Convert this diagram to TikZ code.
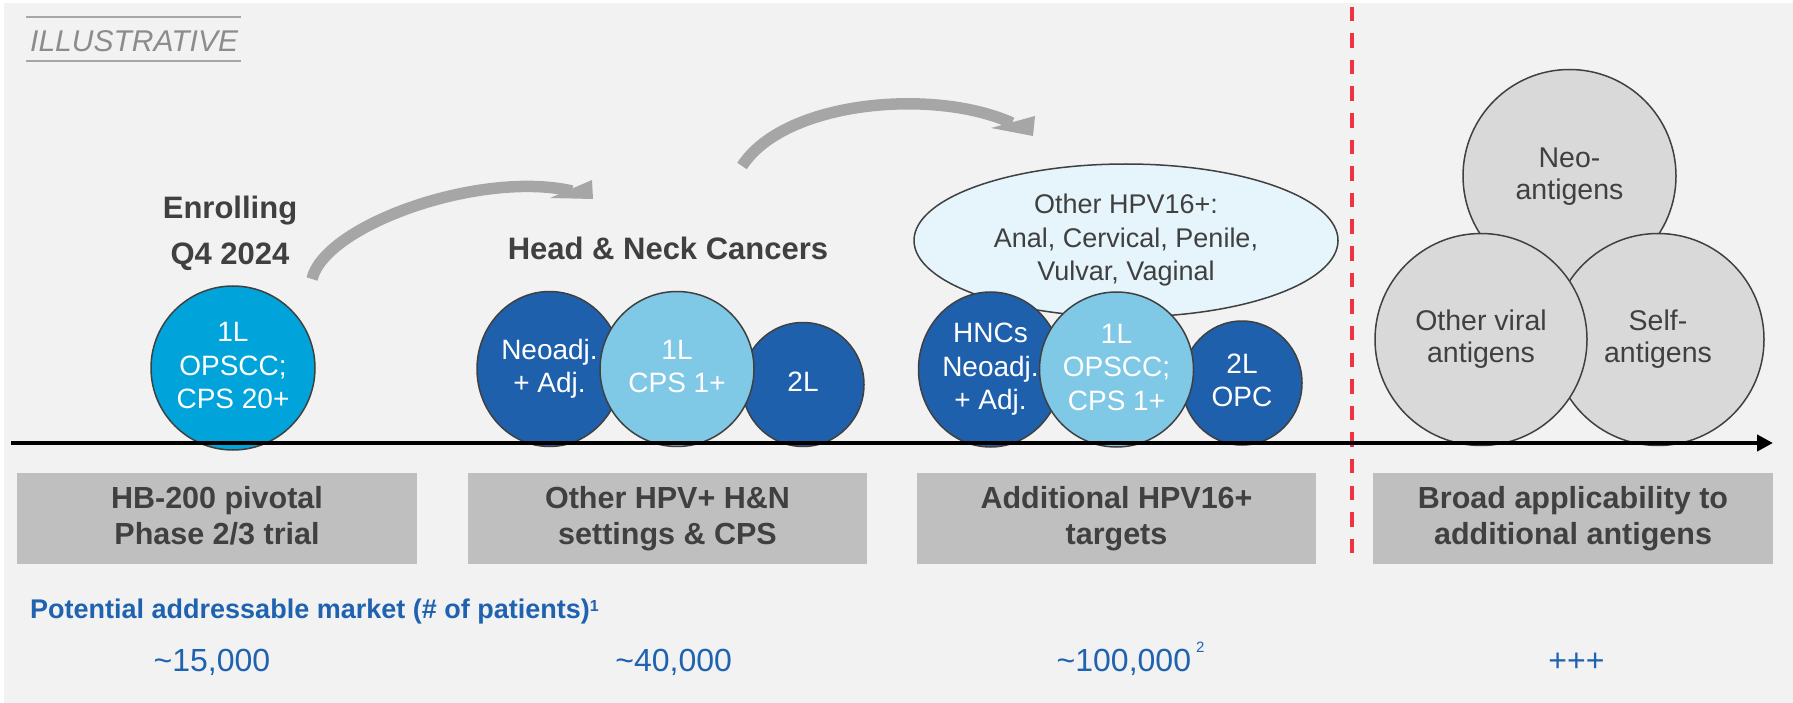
\documentclass[tikz,border=0pt]{standalone}
\usepackage{fontspec}
\setmainfont{Liberation Sans}
\usetikzlibrary{shapes.geometric,arrows.meta}

\definecolor{bg}{HTML}{F2F2F2}
\definecolor{ink}{HTML}{404040}
\definecolor{cyanb}{HTML}{00A3DA}
\definecolor{darkb}{HTML}{1F60AC}
\definecolor{lightb}{HTML}{7FC8E6}
\definecolor{paleb}{HTML}{E6F4FB}
\definecolor{boxg}{HTML}{BFBFBF}
\definecolor{discg}{HTML}{D9D9D9}
\definecolor{arrg}{HTML}{A6A6A6}
\definecolor{mktblue}{HTML}{1F62B0}
\definecolor{divred}{HTML}{EE3440}
\definecolor{tagg}{HTML}{8C8C8C}
\definecolor{tagline}{HTML}{A6A6A6}

% line strut: keeps every text line the same height, so blocks centre alike
\newcommand\lnstrut{\rule[-0.2em]{0pt}{0.9em}}

\tikzset{
  txt/.style={inner sep=0pt, align=center},
  disc/.style={ellipse, draw=ink, line width=1.5pt, inner sep=0pt, align=center,
    text=white, font=\fontsize{28}{33.5}\selectfont},
  gdisc/.style={ellipse, draw=ink, line width=1.5pt, inner sep=0pt, align=center,
    fill=discg, text=ink, font=\fontsize{28.5}{32}\selectfont},
  gbox/.style={rectangle, fill=boxg, inner sep=0pt, align=center, text=ink,
    minimum height=91pt, font=\fontsize{30.5}{36}\selectfont\bfseries},
  heading/.style={txt, text=ink, font=\fontsize{31}{46}\selectfont\bfseries},
  num/.style={inner sep=0pt, text=mktblue, font=\fontsize{32}{36}\selectfont},
  band/.style={draw=arrg, line width=11.5pt},
  bandhead/.style={fill=arrg},
}

\begin{document}
\begin{tikzpicture}[x=1pt, y=-1pt]
\useasboundingbox (0,0) rectangle (1793,703);
\fill[white] (0,0) rectangle (1793,703);
\fill[bg] (4,3) rectangle (1793,703);

% tag in the top left corner
\draw[tagline, line width=1.5pt] (26,17) -- (241,17);
\draw[tagline, line width=1.5pt] (26,61) -- (241,61);
\node[inner sep=0pt, anchor=base west, text=tagg,
      font=\fontsize{30}{36}\selectfont\itshape] (tag) at (30,52) {ILLUSTRATIVE};

% curved step arrows
\coordinate (a1t) at (312,279);
\coordinate (a1e) at (572,191);
\draw[band] (a1t) .. controls (325,225) and (480,170) .. (a1e);
\fill[bandhead] (592,180) -- (593,199) -- (550,198) -- cycle;

\coordinate (a2t) at (742,166);
\coordinate (a2e) at (1012,123);
\draw[band] (a2t) .. controls (785,100) and (935,88) .. (a2e);
\fill[bandhead] (1035,116) -- (1033,136) -- (991,128) -- cycle;

% headings
\node[heading] (enr) at (230,233.2) {\lnstrut Enrolling\\\lnstrut Q4 2024};
\node[heading] (hnc) at (668,251.1) {\lnstrut Head \& Neck Cancers};

% stage 1
\node[disc, fill=cyanb, minimum width=164pt, minimum height=164pt] (c1) at (233,368)
  {\lnstrut 1L\\\lnstrut OPSCC;\\\lnstrut CPS 20+};

% stage 2
\node[disc, fill=darkb, minimum width=145pt, minimum height=155pt] (g2a) at (549.5,369)
  {\lnstrut Neoadj.\\\lnstrut + Adj.};
\node[disc, fill=darkb, minimum width=122pt, minimum height=124pt] (g2c) at (803,384.5)
  {\lnstrut 2L};
\node[disc, fill=lightb, minimum width=154pt, minimum height=155pt] (g2b) at (677,369)
  {\lnstrut 1L\\\lnstrut CPS 1+};

% stage 3
\node[ellipse, draw=ink, line width=1.5pt, fill=paleb, inner sep=0pt, align=center,
      text=ink, font=\fontsize{27}{33.5}\selectfont,
      minimum width=424pt, minimum height=153pt] (g3e) at (1126,240.5)
  {\lnstrut Other HPV16+:\\\lnstrut Anal, Cervical, Penile,\\\lnstrut Vulvar, Vaginal};
\node[disc, fill=darkb, minimum width=144pt, minimum height=155pt] (g3a) at (990.5,369.5)
  {\lnstrut HNCs\\\lnstrut Neoadj.\\\lnstrut + Adj.};
\node[disc, fill=darkb, minimum width=120pt, minimum height=124pt] (g3c) at (1242,383)
  {\lnstrut 2L\\\lnstrut OPC};
\node[disc, fill=lightb, minimum width=154pt, minimum height=155pt] (g3b) at (1116.5,369.5)
  {\lnstrut 1L\\\lnstrut OPSCC;\\\lnstrut CPS 1+};

% stage 4
\node[gdisc, minimum width=213pt, minimum height=213pt] (neo) at (1569.5,176)
  {\lnstrut Neo-\\\lnstrut antigens};
\node[gdisc, minimum width=212pt, minimum height=212pt] (self) at (1658,339.5)
  {\lnstrut Self-\\\lnstrut antigens};
\node[gdisc, minimum width=212pt, minimum height=212pt] (viral) at (1481,339.5)
  {\lnstrut Other viral\\\lnstrut antigens};

% divider
\coordinate (dvT) at (1352,6.7);
\coordinate (dvB) at (1352,553);
\draw[divred, line width=3.3pt, dash pattern=on 14.5pt off 12.1pt] (dvT) -- (dvB);

% axis
\coordinate (axL) at (11,443);
\coordinate (axR) at (1773,443);
\draw[black, line width=4pt, -{Triangle[length=16pt,width=16pt]}] (axL) -- (axR);

% stage labels
\node[gbox, minimum width=400pt] (b1) at (217,518.5)
  {\lnstrut HB-200 pivotal\\\lnstrut Phase 2/3 trial};
\node[gbox, minimum width=399pt] (b2) at (667.5,518.5)
  {\lnstrut Other HPV+ H\&N\\\lnstrut settings \& CPS};
\node[gbox, minimum width=399pt] (b3) at (1116.5,518.5)
  {\lnstrut Additional HPV16+\\\lnstrut targets};
\node[gbox, minimum width=400pt] (b4) at (1573,518.5)
  {\lnstrut Broad applicability to\\\lnstrut additional antigens};

% market sizes
\node[inner sep=0pt, anchor=base west, text=mktblue,
      font=\fontsize{27}{32}\selectfont\bfseries] (mkt) at (30,618)
  {Potential addressable market (\# of patients)\raisebox{6.5pt}{\fontsize{16}{16}\selectfont 1}};
\node[num, anchor=base] (m1) at (212,671) {\textasciitilde15,000};
\node[num, anchor=base] (m2) at (673.7,671) {\textasciitilde40,000};
\node[num, anchor=base west] (m3) at (1056.5,671)
  {\textasciitilde100,000\hspace{5pt}\raisebox{19pt}{\fontsize{15}{15}\selectfont 2}};
\node[num, anchor=base] (m4) at (1576.5,671) {+++};
\end{tikzpicture}
\end{document}
